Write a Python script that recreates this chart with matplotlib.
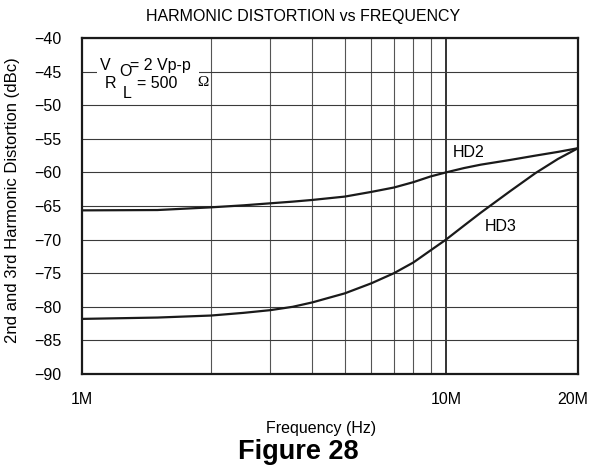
import numpy as np
import matplotlib
matplotlib.use("Agg")
import matplotlib.pyplot as plt
import matplotlib.transforms as mtransforms
from matplotlib.patches import Rectangle

# ──────────────────────────────────────────────────────────────────────────────
# Data (frequency in Hz, distortion in dBc)
# ──────────────────────────────────────────────────────────────────────────────
freq = [1.0e6, 1.5e6, 2.0e6, 2.5e6, 3.0e6, 3.5e6, 4.0e6, 5.0e6, 6.0e6, 7.0e6,
        8.0e6, 9.0e6, 10.0e6, 11.0e6, 12.0e6, 14.0e6, 16.0e6, 18.0e6, 20.0e6]
hd2 = [-65.65, -65.6, -65.2, -64.9, -64.6, -64.35, -64.1, -63.6, -62.9, -62.25,
       -61.45, -60.6, -60.0, -59.35, -58.85, -58.15, -57.5, -56.95, -56.4]
hd3 = [-81.8, -81.6, -81.3, -80.9, -80.5, -80.0, -79.35, -78.0, -76.5, -75.0,
       -73.4, -71.6, -70.0, -67.9, -66.0, -62.8, -60.1, -58.0, -56.4]

xtick_vals = [1e6, 1e7, 2e7]
xtick_labels = ["1M", "10M", "20M"]
xgrid_minor = [2e6, 3e6, 4e6, 5e6, 6e6, 7e6, 8e6, 9e6]
yticks = list(range(-90, -39, 5))

# the datasheet axis is log-like but the 1M-2M and 10M-20M decades are stretched
LOG_NODES = [6.0, np.log10(2e6), 7.0, np.log10(2e7)]
POS_NODES = [0.0, 129.0, 364.0, 496.0]


def fwd(x):
    x = np.clip(np.asarray(x, dtype=float), 1e-9, None)
    return np.interp(np.log10(x), LOG_NODES, POS_NODES)


def inv(p):
    return 10 ** np.interp(np.asarray(p, dtype=float), POS_NODES, LOG_NODES)


plt.rcParams['font.family'] = ['Liberation Sans', 'DejaVu Sans']
plt.rcParams['font.size'] = 11.5

fig = plt.figure(figsize=(5.89, 4.68), dpi=100)
ax = fig.add_axes([82 / 589, 1 - 374 / 468, 496 / 589, 336 / 468])

ax.set_xscale('function', functions=(fwd, inv))
ax.set_xlim(1e6, 2e7)
ax.set_ylim(-90, -40)

ax.plot(freq, hd2, color='#1a1a1a', lw=1.6, zorder=4)
ax.plot(freq, hd3, color='#1a1a1a', lw=1.6, zorder=4)

ax.set_xticks(xtick_vals)
ax.set_xticklabels(xtick_labels)
ax.set_xticks(xgrid_minor, minor=True)
ax.set_yticks(yticks)
ax.tick_params(which='both', length=0)
ax.tick_params(axis='y', pad=15)
ax.tick_params(axis='x', pad=13)

# pull the 20M label inside the figure edge a little
lbl = ax.get_xticklabels()[-1]
lbl.set_transform(lbl.get_transform() +
                  mtransforms.ScaledTranslation(-5 / 100, 0, fig.dpi_scale_trans))

ax.grid(True, axis='y', color='#3a3a3a', lw=0.8)
ax.grid(True, axis='x', which='minor', color='#555555', lw=0.8)
ax.axvline(1e7, color='#111111', lw=1.2, zorder=1.5)

for sp in ax.spines.values():
    sp.set_linewidth(1.6)
    sp.set_color('#1a1a1a')

# conditions box (white patch breaks the -45 grid line)
ax.add_patch(Rectangle((0.030, 0.880), 0.206, 0.05, transform=ax.transAxes,
                       facecolor='white', edgecolor='none', zorder=2))
ax.text(0.036, 0.9057, "V", transform=ax.transAxes, va='baseline', zorder=3)
ax.text(0.0746, 0.887, "O", transform=ax.transAxes, va='baseline', zorder=3)
ax.text(0.0968, 0.9057, "= 2 Vp-p", transform=ax.transAxes, va='baseline', zorder=3)
ax.text(0.0464, 0.851, "R", transform=ax.transAxes, va='baseline', zorder=3)
ax.text(0.0827, 0.8214, "L", transform=ax.transAxes, va='baseline', zorder=3)
ax.text(0.1109, 0.851, "= 500", transform=ax.transAxes, va='baseline', zorder=3)
ax.text(0.2319, 0.856, "Ω", transform=ax.transAxes, va='baseline', fontsize=11,
        family=['Liberation Serif', 'DejaVu Serif'], zorder=3)

ax.text(10.37e6, -57.66, "HD2", va='baseline', zorder=3)
ax.text(12.27e6, -68.72, "HD3", va='baseline', zorder=3)

fig.text(303 / 589, 1 - 17 / 468, "HARMONIC DISTORTION vs FREQUENCY",
         ha='center', va='center', fontsize=11.5)
fig.text(12.5 / 589, 1 - 200 / 468, "2nd and 3rd Harmonic Distortion (dBc)",
         ha='center', va='center', rotation=90, fontsize=12)
fig.text(321 / 589, 1 - 428 / 468, "Frequency (Hz)", ha='center', va='center', fontsize=11.5)
fig.text(298 / 589, 1 - 452 / 468, "Figure 28", ha='center', va='center',
         fontsize=19.5, fontweight='bold')

fig.savefig("out.png", dpi=100)
